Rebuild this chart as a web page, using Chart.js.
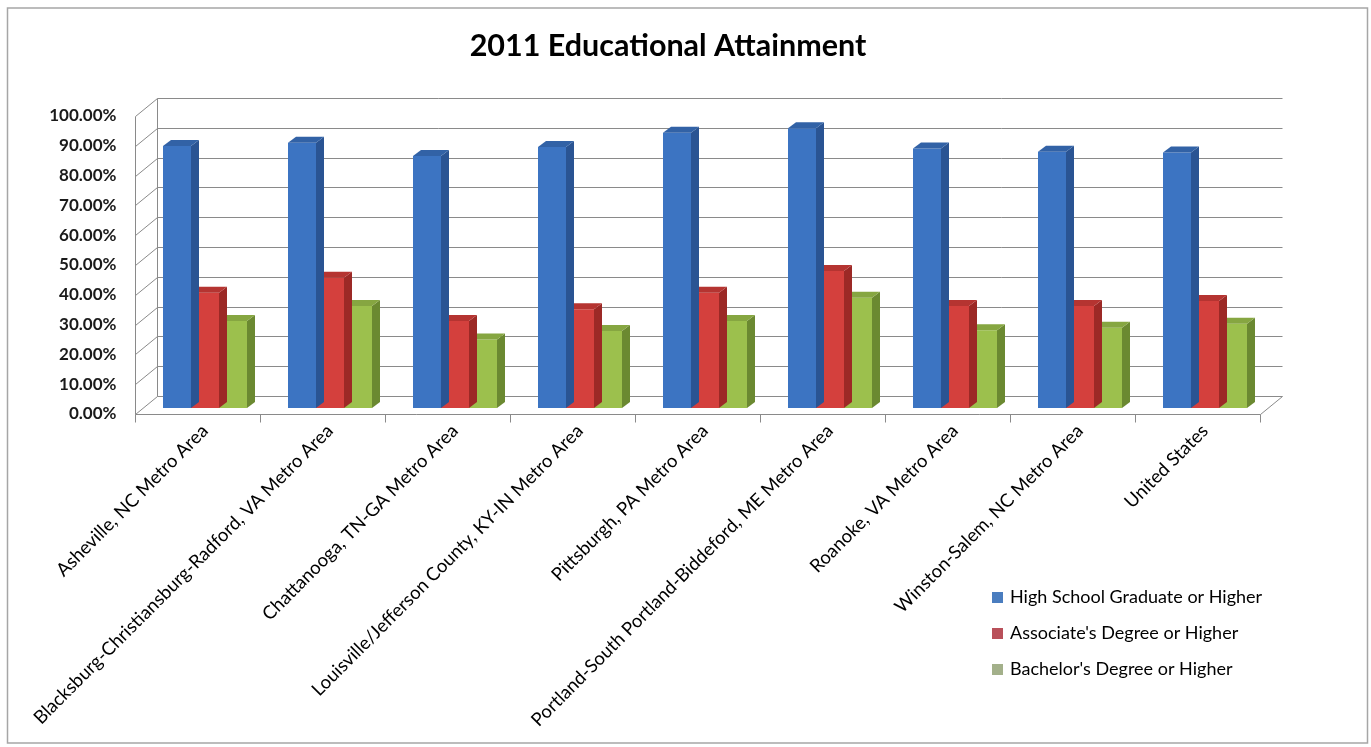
<!DOCTYPE html>
<html>
<head>
<meta charset="utf-8">
<title>2011 Educational Attainment</title>
<script src="https://cdn.jsdelivr.net/npm/chart.js@4.4.0/dist/chart.umd.min.js"></script>
<style>
  html, body { margin: 0; padding: 0; background: #ffffff; }
  #frame { position: relative; width: 1371px; height: 747px; }
  canvas { display: block; }
</style>
</head>
<body>
<div id="frame"><canvas id="chart" width="1371" height="747"></canvas></div>
<script>
// Metro areas compared
const categories = [
  'Asheville, NC Metro Area',
  'Blacksburg-Christiansburg-Radford, VA Metro Area',
  'Chattanooga, TN-GA Metro Area',
  'Louisville/Jefferson County, KY-IN Metro Area',
  'Pittsburgh, PA Metro Area',
  'Portland-South Portland-Biddeford, ME Metro Area',
  'Roanoke, VA Metro Area',
  'Winston-Salem, NC Metro Area',
  'United States'
];

// Share of population (percent) by attainment level
const highSchoolOrHigher = [87.9, 89.0, 84.6, 87.6, 92.4, 93.9, 87.1, 86.0, 85.7];
const associateOrHigher  = [38.7, 43.7, 29.2, 33.1, 38.7, 46.0, 34.2, 34.2, 35.9];
const bachelorOrHigher   = [29.2, 34.2, 23.0, 25.8, 29.2, 37.0, 26.1, 26.9, 28.3];

const seriesNames = [
  'High School Graduate or Higher',
  "Associate's Degree or Higher",
  "Bachelor's Degree or Higher"
];

// Value axis ticks
const yTickValues = [0, 10, 20, 30, 40, 50, 60, 70, 80, 90, 100];
const yTickLabels = ['0.00%', '10.00%', '20.00%', '30.00%', '40.00%', '50.00%',
                     '60.00%', '70.00%', '80.00%', '90.00%', '100.00%'];

// Face colours for each series: front, side, top, legend key
const palette = [
  { front: '#3c74c2', side: '#2a5493', top: '#3262a6', key: '#4a7dbf' },
  { front: '#d4403d', side: '#9c2926', top: '#b53431', key: '#b9505a' },
  { front: '#9cc04d', side: '#6b8931', top: '#86a641', key: '#a3b08a' }
];

// Pseudo-3D geometry (pixels) relative to the plane the bar fronts sit on
const BAR_DEPTH = { dx: 8, dy: -6 };
const FLOOR_FRONT = { dx: -7.5, dy: 6 };
const BACK_WALL = { dx: 14.5, dy: -12 };

const FONT = 'Lato, "Open Sans", sans-serif';

const wallsPlugin = {
  id: 'walls',
  beforeDatasetsDraw(chart) {
    const { ctx, chartArea: a, scales: { x, y } } = chart;
    const line = (x1, y1, x2, y2) => {
      ctx.beginPath();
      ctx.moveTo(Math.round(x1) + 0.5, Math.round(y1) + 0.5);
      ctx.lineTo(Math.round(x2) + 0.5, Math.round(y2) + 0.5);
      ctx.stroke();
    };
    ctx.save();
    ctx.strokeStyle = '#8a8a8a';
    ctx.lineWidth = 1;
    const fl = a.left + FLOOR_FRONT.dx, fr = a.right + FLOOR_FRONT.dx;
    const bl = a.left + BACK_WALL.dx, br = a.right + BACK_WALL.dx;
    yTickValues.forEach(v => {
      const py = y.getPixelForValue(v);
      line(bl, py + BACK_WALL.dy, br, py + BACK_WALL.dy);      // back wall gridline
      line(fl, py + FLOOR_FRONT.dy, bl, py + BACK_WALL.dy);    // side wall gridline
    });
    const yTopF = y.getPixelForValue(100) + FLOOR_FRONT.dy;
    const yBotF = y.getPixelForValue(0) + FLOOR_FRONT.dy;
    const yTopB = y.getPixelForValue(100) + BACK_WALL.dy;
    const yBotB = y.getPixelForValue(0) + BACK_WALL.dy;
    line(fl, yTopF, fl, yBotF);   // value axis line
    line(bl, yTopB, bl, yBotB);   // back corner
    line(fl, yBotF, fr, yBotF);   // floor front edge
    line(fr, yBotF, br, yBotB);   // floor right edge
    const n = categories.length;
    const w = (a.right - a.left) / n;
    for (let i = 0; i <= n; i++) {
      line(fl + i * w, yBotF, fl + i * w, yBotF + 8);
    }
    ctx.restore();
  },
  afterDatasetDraw(chart, args) {
    const { ctx } = chart;
    const meta = chart.getDatasetMeta(args.index);
    const col = palette[args.index];
    ctx.save();
    meta.data.forEach(bar => {
      const { x, y, base, width } = bar.getProps(['x', 'y', 'base', 'width'], true);
      const l = x - width / 2, r = x + width / 2;
      const { dx, dy } = BAR_DEPTH;
      ctx.fillStyle = col.side;
      ctx.beginPath();
      ctx.moveTo(r, y);
      ctx.lineTo(r + dx, y + dy);
      ctx.lineTo(r + dx, base + dy);
      ctx.lineTo(r, base);
      ctx.closePath();
      ctx.fill();
      ctx.fillStyle = col.top;
      ctx.beginPath();
      ctx.moveTo(l, y);
      ctx.lineTo(r, y);
      ctx.lineTo(r + dx, y + dy);
      ctx.lineTo(l + dx, y + dy);
      ctx.closePath();
      ctx.fill();
    });
    ctx.restore();
  }
};

const decorPlugin = {
  id: 'decor',
  beforeDraw(chart) {
    const { ctx } = chart;
    ctx.save();
    ctx.fillStyle = '#ffffff';
    ctx.fillRect(0, 0, chart.width, chart.height);
    ctx.strokeStyle = '#a6a6a6';
    ctx.lineWidth = 1.5;
    ctx.strokeRect(7.5, 8, 1360, 735);
    ctx.restore();
  },
  afterDraw(chart) {
    const { ctx } = chart;
    ctx.save();
    // chart heading
    ctx.fillStyle = '#000000';
    ctx.font = 'bold 30.5px ' + FONT;
    ctx.textAlign = 'center';
    ctx.textBaseline = 'middle';
    ctx.fillText('2011 Educational Attainment', 668, 46);
    // legend
    ctx.font = '18px ' + FONT;
    ctx.textAlign = 'left';
    chart.data.datasets.forEach((ds, i) => {
      const cy = 597 + i * 36;
      ctx.fillStyle = palette[i].key;
      ctx.fillRect(992, cy - 5, 11, 11);
      ctx.fillStyle = '#000000';
      ctx.fillText(ds.label, 1010, cy);
    });
    ctx.restore();
  }
};

const seriesValues = [highSchoolOrHigher, associateOrHigher, bachelorOrHigher];

new Chart(document.getElementById('chart'), {
  type: 'bar',
  data: {
    labels: categories,
    datasets: seriesValues.map((vals, i) => ({
      label: seriesNames[i],
      data: vals,
      backgroundColor: palette[i].front,
      borderWidth: 0,
      categoryPercentage: 0.672,
      barPercentage: 1.0
    }))
  },
  options: {
    responsive: false,
    animation: false,
    devicePixelRatio: 1,
    layout: { padding: { top: 110, right: 103.5, bottom: 0, left: 0 } },
    plugins: {
      legend: { display: false },
      title: { display: false },
      tooltip: { enabled: false }
    },
    scales: {
      x: {
        grid: { display: false, drawTicks: false },
        border: { display: false },
        ticks: {
          autoSkip: false,
          minRotation: 45,
          maxRotation: 45,
          padding: 12,
          color: '#000000',
          font: { family: FONT, size: 18.5 }
        },
        afterFit(scale) { scale.height = 339; }
      },
      y: {
        min: 0,
        max: 100,
        grid: { display: false, drawTicks: false },
        border: { display: false },
        afterBuildTicks(scale) { scale.ticks = yTickValues.map(v => ({ value: v })); },
        ticks: {
          padding: 26,
          labelOffset: 6,
          color: '#1a1a1a',
          font: { family: FONT, size: 17, weight: 'bold' },
          callback: (v) => yTickLabels[yTickValues.indexOf(v)]
        },
        afterFit(scale) { scale.width = 142.5; }
      }
    }
  },
  plugins: [decorPlugin, wallsPlugin]
});
</script>
</body>
</html>
